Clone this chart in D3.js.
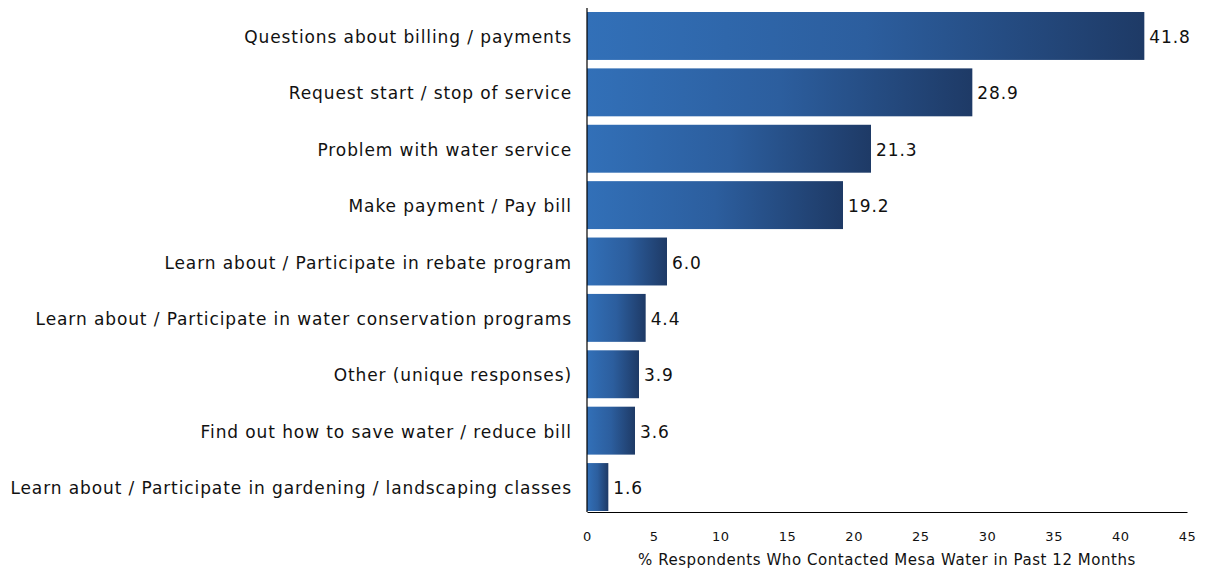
<!DOCTYPE html>
<html>
<head>
<meta charset="utf-8">
<script src="https://cdn.jsdelivr.net/npm/d3@7"></script>
<style>
  html, body { margin: 0; padding: 0; background: #fff; }
  svg text { font-family: "DejaVu Sans", sans-serif; fill: #111; }
</style>
</head>
<body>
<svg id="chart" width="1205" height="571"></svg>
<script>
// Reasons for contacting Mesa Water (% of respondents)
const categories = [
  "Questions about billing / payments",
  "Request start / stop of service",
  "Problem with water service",
  "Make payment / Pay bill",
  "Learn about / Participate in rebate program",
  "Learn about / Participate in water conservation programs",
  "Other (unique responses)",
  "Find out how to save water / reduce bill",
  "Learn about / Participate in gardening / landscaping classes"
];
const values = [41.8, 28.9, 21.3, 19.2, 6.0, 4.4, 3.9, 3.6, 1.6];
const xTicks = [0, 5, 10, 15, 20, 25, 30, 35, 40, 45];
const xTitle = "% Respondents Who Contacted Mesa Water in Past 12 Months";

const svg = d3.select("#chart");
const W = 1205, H = 571;
const axisY = 512;

const x = d3.scaleLinear().domain([0, 45]).range([587, 1187]);
const y = d3.scaleBand().domain(categories).range([12, 511])
  .paddingInner(0.15).paddingOuter(0);

// horizontal gradient applied per bar
const defs = svg.append("defs");
const grad = defs.append("linearGradient").attr("id", "barGrad")
  .attr("x1", "0").attr("x2", "1").attr("y1", "0").attr("y2", "0");
grad.append("stop").attr("offset", "0%").attr("stop-color", "#3270b8");
grad.append("stop").attr("offset", "50%").attr("stop-color", "#2c5e9e");
grad.append("stop").attr("offset", "100%").attr("stop-color", "#1e3a66");

svg.append("g").selectAll("rect").data(values).join("rect")
  .attr("x", x(0))
  .attr("y", (d, i) => y(categories[i]))
  .attr("width", d => x(d) - x(0))
  .attr("height", y.bandwidth())
  .attr("fill", "url(#barGrad)");

// value labels
svg.append("g").selectAll("text").data(values).join("text")
  .attr("x", d => x(d) + 5)
  .attr("y", (d, i) => y(categories[i]) + y.bandwidth() / 2)
  .attr("dy", "0.42em")
  .attr("font-size", 17)
  .attr("letter-spacing", 0.9)
  .text(d => d.toFixed(1));

// category labels
svg.append("g").selectAll("text").data(categories).join("text")
  .attr("x", x(0) - 15)
  .attr("y", d => y(d) + y.bandwidth() / 2)
  .attr("dy", "0.42em")
  .attr("text-anchor", "end")
  .attr("font-size", 17)
  .attr("letter-spacing", 0.9)
  .text(d => d);

// x axis
const xAxis = d3.axisBottom(x).tickValues(xTicks).tickSize(0).tickPadding(20);
const gx = svg.append("g").attr("transform", `translate(0,${axisY})`).call(xAxis);
gx.select(".domain").attr("stroke", "#000").attr("stroke-width", 1.2);
gx.selectAll("text").attr("font-size", 13).attr("letter-spacing", 0.6)
  .attr("font-family", "DejaVu Sans, sans-serif").attr("fill", "#111");

// y axis line
svg.append("line")
  .attr("x1", x(0)).attr("x2", x(0))
  .attr("y1", 8).attr("y2", axisY)
  .attr("stroke", "#000").attr("stroke-width", 1.2);

svg.append("text")
  .attr("x", (x(0) + x(45)) / 2)
  .attr("y", 565)
  .attr("text-anchor", "middle")
  .attr("font-size", 15)
  .attr("letter-spacing", 0.55)
  .text(xTitle);
</script>
</body>
</html>
